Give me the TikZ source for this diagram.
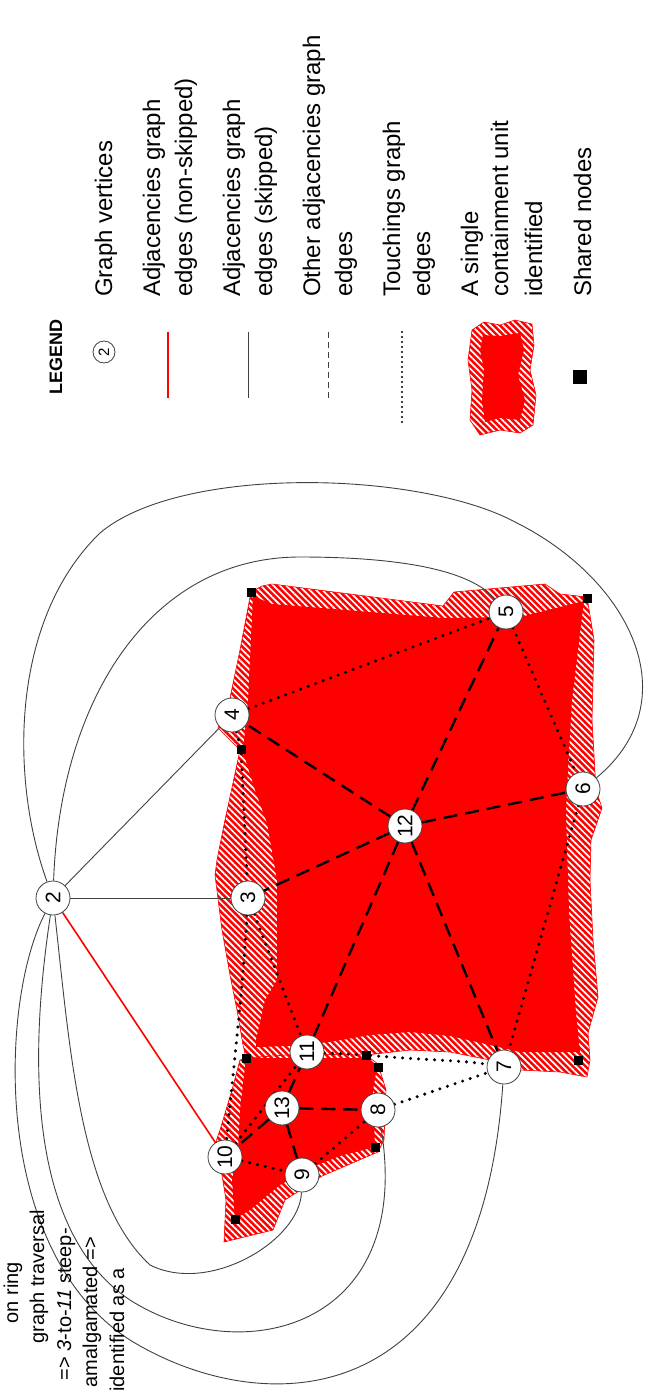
\documentclass[tikz,border=0pt]{standalone}
\usepackage{fontspec}
\setmainfont{Liberation Sans}
\usetikzlibrary{patterns.meta}
\pgfdeclarelayer{hatch}
\pgfdeclarelayer{links}
\pgfsetlayers{hatch,links,main}

\tikzset{
  vertex/.style={circle, draw=black!75, fill=white, line width=0.8pt, minimum size=34pt, inner sep=0pt, rotate=90, font=\fontsize{21}{21}\selectfont},
  shared/.style={fill=black, minimum size=9pt, inner sep=0pt},
  nonskip/.style={red, line width=1.6pt},
  skipped/.style={black!75, line width=0.9pt},
  other/.style={black, line width=2.4pt, dash pattern=on 14pt off 8pt},
  touch/.style={black, line width=3.4pt, line cap=round, dash pattern=on 0pt off 8pt},
  unit/.style={preaction={fill=red}, pattern={Lines[angle=-45,distance=4.5pt,line width=1.7pt]}, pattern color=white, draw=red, line width=0.6pt},
  core/.style={fill=red},
  legtext/.style={rotate=90, anchor=base west, inner sep=0pt, font=\fontsize{24}{24}\selectfont},
  note/.style={rotate=90, anchor=base east, inner sep=0pt, font=\fontsize{20}{20}\selectfont},
}

\begin{document}
\begin{tikzpicture}[x=1pt,y=-1pt]
\useasboundingbox (0,0) rectangle (652,1394);

% containment unit, hatched rim first
\begin{pgfonlayer}{hatch}
\path[unit] (251,592) -- (262,586) -- (272,584) -- (443,606) -- (454,592) -- (545,584) -- (560,594) -- (587,597)
  -- (594,640) -- (592,720) -- (596,790) -- (602,808) -- (591,840) -- (590,880) -- (593,940) -- (598,997)
  -- (588,1033) -- (590,1060) -- (587,1077) -- (560,1072) -- (520,1070) -- (490,1060) -- (450,1052)
  -- (410,1050) -- (366,1055) -- (246,1058) -- (243,1045) -- (237,1010) -- (230,975) -- (222,930)
  -- (215,875) -- (217,860) -- (225,820) -- (233,783) -- (240,750) -- (218,728) -- (230,698) -- (240,650) -- cycle;
\path[unit] (246,1058) -- (300,1054) -- (366,1055) -- (378,1064) -- (386,1090) -- (384,1140) -- (378,1152)
  -- (322,1176) -- (285,1200) -- (273,1230) -- (224,1242) -- (226,1200) -- (222,1175) -- (213,1150)
  -- (220,1130) -- (232,1090) -- (240,1060) -- cycle;
\path[core] (253,596) -- (272,604) -- (443,618) -- (520,617) -- (584,601) -- (580,633) -- (572,700)
  -- (568,767) -- (566,813) -- (569,913) -- (576,1013) -- (580,1052) -- (520,1052) -- (490,1045)
  -- (450,1036) -- (410,1032) -- (370,1035) -- (330,1042) -- (290,1046) -- (256,1047) -- (256,1040)
  -- (265,1000) -- (277,980) -- (277,880) -- (267,823) -- (255,790) -- (243,752) -- (248,700) -- cycle;
\path[core] (246,1058) -- (366,1058) -- (377,1068) -- (373,1090) -- (375,1147) -- (340,1156) -- (310,1168)
  -- (280,1185) -- (250,1210) -- (235,1219) -- (232,1180) -- (238,1150) -- (240,1110) -- cycle;
% legend sample
\path[unit] (472,330) -- (484,322) -- (500,325) -- (515,320) -- (532,324) -- (534,345) -- (530,370) -- (536,395)
  -- (533,425) -- (520,433) -- (500,430) -- (480,435) -- (470,420) -- (472,390) -- (468,360) -- cycle;
\path[core] (483,335) -- (500,336) -- (520,333) -- (524,350) -- (518,375) -- (525,400) -- (520,420)
  -- (500,418) -- (485,422) -- (482,400) -- (484,370) -- (480,350) -- cycle;
\end{pgfonlayer}

% graph vertices
\node[vertex] (n2) at (53,898) {2};
\node[vertex] (n3) at (248,898) {3};
\node[vertex] (n4) at (232,715) {4};
\node[vertex] (n5) at (506,612) {5};
\node[vertex] (n6) at (583,789) {6};
\node[vertex] (n7) at (504,1067) {7};
\node[vertex] (n8) at (378,1110) {8};
\node[vertex] (n9) at (302,1175) {9};
\node[vertex] (n10) at (225,1157) {10};
\node[vertex] (n11) at (307,1052) {11};
\node[vertex] (n12) at (405,826) {12};
\node[vertex] (n13) at (282,1108) {13};

% shared nodes
\node[shared] (s1) at (251,592) {};
\node[shared] (s2) at (241,749) {};
\node[shared] (s3) at (587,598) {};
\node[shared] (s4) at (246,1058) {};
\node[shared] (s5) at (366,1055) {};
\node[shared] (s6) at (378,1067) {};
\node[shared] (s7) at (578,1060) {};
\node[shared] (s8) at (375,1147) {};
\node[shared] (s9) at (235,1219) {};

\begin{pgfonlayer}{links}
\clip (0,0) rectangle (652,1394);
% adjacencies
\draw[nonskip] (n2) -- (n10);
\draw[skipped] (n2) -- (n3);
\draw[skipped] (n2) -- (n4);
\draw[skipped] (n2) .. controls (60,700) and (150,557) .. (300,557) .. controls (400,557) and (470,570) .. (n5);
\draw[skipped] (n2) .. controls (10,780) and (10,620) .. (100,533) .. controls (180,465) and (420,470) .. (517,523) .. controls (630,580) and (690,700) .. (n6);
\draw[skipped] (n2) .. controls (70,1050) and (80,1200) .. (150,1265) .. controls (210,1295) and (300,1240) .. (n9);
\draw[skipped] (n2) .. controls (30,1050) and (25,1230) .. (130,1300) .. controls (240,1370) and (415,1330) .. (n8);
\draw[skipped] (n2) .. controls (0,1000) and (-10,1250) .. (130,1340) .. controls (260,1420) and (480,1420) .. (n7);
% other adjacencies
\foreach \v in {3,4,5,6,7,11}
  \draw[other] (n12) -- (n\v);
\foreach \v in {10,9,8,11}
  \draw[other] (n13) -- (n\v);
% touchings
\draw[touch] (n4) -- (s2) -- (n3);
\draw[touch] (n4) -- (n5);
\draw[touch] (n5) -- (n6);
\draw[touch] (n6) -- (n7);
\draw[touch] (n3) -- (n11);
\draw[touch] (n3) .. controls (242,1000) and (232,1080) .. (n10);
\draw[touch] (n10) -- (n11);
\draw[touch] (n10) -- (n9);
\draw[touch] (n9) -- (n8);
\draw[touch] (n8) -- (n7);
\draw[touch] (n11) -- (s5) .. controls (420,1060) and (460,1060) .. (n7);
\end{pgfonlayer}

% legend
\node[legtext, font=\fontsize{18}{18}\selectfont\bfseries, anchor=base west] (lg) at (62,395) {LEGEND};
\node[vertex, minimum size=22pt, font=\fontsize{15}{15}\selectfont] (lg1) at (104,352) {2};
\node[legtext] (t1) at (112,297) {Graph vertices};
\coordinate (a1) at (168,332);
\coordinate (b1) at (168,398);
\draw[nonskip] (a1) -- (b1);
\node[legtext] (t2) at (160,297) {Adjacencies graph};
\node[legtext] (t2b) at (192,297) {edges (non-skipped)};
\coordinate (a2) at (248,332);
\coordinate (b2) at (248,398);
\draw[skipped] (a2) -- (b2);
\node[legtext] (t3) at (240,297) {Adjacencies graph};
\node[legtext] (t3b) at (272,297) {edges (skipped)};
\coordinate (a3) at (328,332);
\coordinate (b3) at (328,398);
\draw[black!75, line width=0.9pt, dash pattern=on 6pt off 4pt] (a3) -- (b3);
\node[legtext] (t4) at (320,297) {Other adjacencies graph};
\node[legtext] (t4b) at (352,297) {edges};
\coordinate (a4) at (402,332);
\coordinate (b4) at (402,422);
\draw[black, line width=2.2pt, line cap=round, dash pattern=on 0pt off 5pt] (a4) -- (b4);
\node[legtext] (t5) at (400,297) {Touchings graph};
\node[legtext] (t5b) at (430,297) {edges};
\node[legtext] (t6) at (478,297) {A single};
\node[legtext] (t6b) at (508,297) {containment unit};
\node[legtext] (t6c) at (542,297) {identified};
\node[shared, minimum size=14pt] (lg7) at (580,377) {};
\node[legtext] (t7) at (591,297) {Shared nodes};

% note, cut at the edge
\begin{scope}
\clip (0,0) rectangle (652,1394);
\node[note] (m1) at (18,1262) {on ring};
\node[note] (m2) at (44,1210) {graph traversal};
\node[note] (m3) at (71,1228) {=> \textit{3}-to-\textit{11} steep-};
\node[note] (m4) at (97,1237) {amalgamated =>};
\node[note] (m5) at (124,1268) {identified as a};
\end{scope}
\end{tikzpicture}
\end{document}
